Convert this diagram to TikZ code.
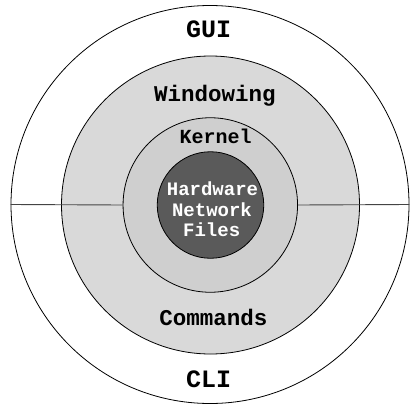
\documentclass[tikz,border=0pt]{standalone}
\usepackage{fontspec}
\setmonofont{Liberation Mono}
\definecolor{ringA}{HTML}{D9D9D9}
\definecolor{ringB}{HTML}{CFCFCF}
\definecolor{core}{HTML}{5A5A5A}
\definecolor{divider}{HTML}{444444}
\tikzset{
  ring/.style={circle, draw=black, line width=0.8pt, inner sep=0pt},
  lbl/.style={anchor=base, inner sep=0pt},
}
\newcommand{\lblfont}[1]{\fontsize{#1}{#1}\selectfont\ttfamily\bfseries}
\begin{document}
\begin{tikzpicture}[x=1pt,y=-1pt]
\useasboundingbox (0,0) rectangle (419,409);
\node[ring, fill=white, minimum size=398pt] (outer) at (210,204.5) {};
\node[ring, fill=ringA, minimum size=298pt] (windowing) at (210.5,205) {};
\node[ring, fill=ringB, minimum size=174.5pt] (kernel) at (210.3,205) {};
\node[ring, fill=core, minimum size=106.5pt] (core) at (210.5,205) {};
\draw[divider, line width=0.9pt] (outer.west) -- (kernel.west);
\draw[divider, line width=0.9pt] (kernel.east) -- (outer.east);
\node[lbl, font=\lblfont{25}] (gui) at (208.7,37.7) {GUI};
\node[lbl, font=\lblfont{22.5}] (win) at (215,101.7) {Windowing};
\node[lbl, font=\lblfont{20}] (ker) at (215.7,143.3) {Kernel};
\node[lbl, white, font=\lblfont{19}] (hw) at (212.5,195.7) {Hardware};
\node[lbl, white, font=\lblfont{19}] (net) at (212,216) {Network};
\node[lbl, white, font=\lblfont{19}] (files) at (211.7,236) {Files};
\node[lbl, font=\lblfont{22.5}] (cmd) at (213.3,325) {Commands};
\node[lbl, font=\lblfont{25}] (cli) at (208.7,387.7) {CLI};
\end{tikzpicture}
\end{document}
